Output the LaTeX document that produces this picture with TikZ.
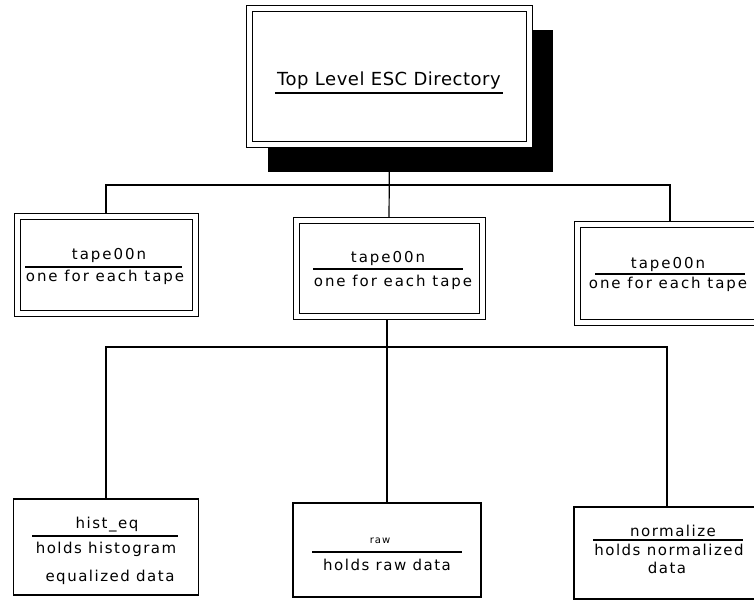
\documentclass[tikz,border=0pt]{standalone}
\usepackage{fontspec}
\newfontfamily\labtop{DejaVu Sans}[LetterSpace=3]
\newfontfamily\labtape{DejaVu Sans}[LetterSpace=13]
\newfontfamily\labbot{DejaVu Sans}[LetterSpace=10]
\pgfdeclarelayer{background}
\pgfsetlayers{background,main}
\begin{document}
\begin{tikzpicture}[x=1pt,y=-1pt,
  dbox/.style={draw, double, double distance=5pt, line width=1pt, fill=white, rectangle, inner sep=0pt},
  sbox/.style={draw, line width=1.2pt, fill=white, rectangle, inner sep=0pt},
  shadowbox/.style={fill=black, rectangle, inner sep=0pt},
  toptxt/.style={anchor=base, inner sep=0pt, font=\labtop\fontsize{18}{21}\selectfont},
  txt/.style={anchor=base, inner sep=0pt, font=\labtape\fontsize{15}{18}\selectfont},
  stxt/.style={anchor=base, inner sep=0pt, font=\labbot\fontsize{15}{18}\selectfont},
  tinytxt/.style={anchor=base, inner sep=0pt, font=\labbot\fontsize{10}{12}\selectfont},
  uline/.style={line width=1.4pt},
  conn/.style={line width=1.2pt}]
\useasboundingbox (0,0) rectangle (754,602);
\clip (0,0) rectangle (754,602);

% top
\node[shadowbox, minimum width=285pt, minimum height=142pt] (shadow) at (410.5,101) {};
\node[dbox, minimum width=279.5pt, minimum height=136pt] (top) at (389.5,76.5) {};
\node[toptxt] (toptxt) at (389,85) {Top Level ESC Directory};
\draw[uline] (275,93) -- (503,93);

% tapes
\node[dbox, minimum width=178pt, minimum height=97.5pt] (t1) at (106,264.75) {};
\node[txt] (t1a) at (109,259) {tape00n};
\draw[uline] (25,267) -- (182,267);
\node[txt] (t1b) at (105,281) {one for each tape};

\node[dbox, minimum width=186pt, minimum height=95.5pt] (t2) at (389,268.25) {};
\node[txt] (t2a) at (388,262) {tape00n};
\draw[uline] (313,269) -- (463,269);
\node[txt] (t2b) at (393,286) {one for each tape};

\node[dbox, minimum width=185pt, minimum height=98pt] (t3) at (670,273.5) {};
\node[txt] (t3a) at (668,268) {tape00n};
\draw[uline] (595,274) -- (745,274);
\node[txt] (t3b) at (668,288) {one for each tape};

% bottom
\node[sbox, minimum width=185pt, minimum height=96pt] (b1) at (106,547) {};
\node[stxt] (b1a) at (107,528) {hist\_eq};
\draw[uline] (32,536) -- (178,536);
\node[stxt] (b1b) at (106,553) {holds histogram};
\node[stxt] (b1c) at (110,581) {equalized data};

\node[sbox, minimum width=188pt, minimum height=94pt] (b2) at (387,550) {};
\node[tinytxt] (b2a) at (380,543) {raw};
\draw[uline] (312,552) -- (462,552);
\node[stxt] (b2b) at (387,570) {holds raw data};

\node[sbox, minimum width=186pt, minimum height=92pt] (b3) at (667,553) {};
\node[stxt] (b3a) at (673,536) {normalize};
\draw[uline] (593,540) -- (743,540);
\node[stxt] (b3b) at (669,555) {holds normalized};
\node[stxt] (b3c) at (667,573) {data};

\coordinate (j1) at (389,185);
\coordinate (j2) at (387,347);

\begin{pgfonlayer}{background}
\draw[conn] (top.south) -- (t2.north);
\draw[conn] (t1.north) |- (j1) -| (t3.north);
\draw[conn] (t2.south -| j2) -- (b2.north);
\draw[conn] (b1.north) |- (j2) -| (b3.north);
\end{pgfonlayer}
\end{tikzpicture}
\end{document}
